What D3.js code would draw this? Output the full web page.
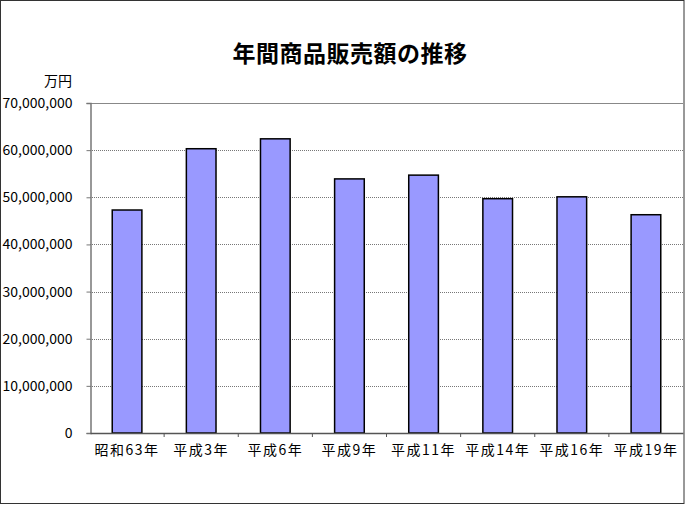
<!DOCTYPE html>
<html><head><meta charset="utf-8">
<script src="https://cdn.jsdelivr.net/npm/d3@7"></script>
<style>body{margin:0;background:#fff}svg{display:block}</style>
</head><body>
<script>
const categories = ["昭和63年","平成3年","平成6年","平成9年","平成11年","平成14年","平成16年","平成19年"];
const values = [47300000, 60300000, 62400000, 53900000, 54700000, 49700000, 50100000, 46300000];
const yTicks = [0,10000000,20000000,30000000,40000000,50000000,60000000,70000000];
const title = "年間商品販売額の推移";
const unit = "万円";

const W=685,H=505;
const font = "'Noto Sans CJK JP','DejaVu Sans',sans-serif";
const m={left:90,right:2,top:103,bottom:72};
const svg=d3.select("body").append("svg").attr("width",W).attr("height",H).style("font-family",font);
svg.append("rect").attr("x",0.5).attr("y",0.5).attr("width",W-1.5).attr("height",H-2).attr("fill","#fff").attr("stroke","#333");

const x=d3.scaleBand().domain(categories).range([m.left,W-m.right]).paddingInner(0.6).paddingOuter(0.3);
const y=d3.scaleLinear().domain([0,70000000]).range([H-m.bottom,m.top]);

// gridlines
svg.append("g").selectAll("line").data(yTicks.filter(d=>d>0)).join("line")
 .attr("x1",m.left).attr("x2",W-m.right).attr("y1",d=>Math.round(y(d))+0.5).attr("y2",d=>Math.round(y(d))+0.5)
 .attr("stroke",d=>d===70000000?"#888":"#777").attr("stroke-dasharray",d=>d===70000000?null:"1,1");

// bars
svg.append("g").selectAll("rect").data(values).join("rect")
 .attr("x",(d,i)=>x(categories[i])).attr("width",x.bandwidth())
 .attr("y",d=>y(d)).attr("height",d=>y(0)-y(d))
 .attr("fill","#9999FF").attr("stroke","#000").attr("stroke-width",1.5);

// y axis
const ya=svg.append("g").attr("transform",`translate(${m.left+0.5},0)`)
 .call(d3.axisLeft(y).tickValues(yTicks).tickSize(4).tickPadding(14).tickFormat(d3.format(",")));
ya.select(".domain").attr("stroke","#777").attr("stroke-width",1.5);
ya.selectAll(".tick line").attr("stroke","#777");
ya.selectAll("text").attr("font-size",14).attr("fill","#000").attr("font-family",font);

// x axis
const xa=svg.append("g").attr("transform",`translate(0,${y(0)})`)
 .call(d3.axisBottom(x).tickSize(0).tickPadding(12));
xa.select(".domain").attr("stroke","#555").attr("stroke-width",1.5);
xa.selectAll("text").attr("font-size",14).attr("letter-spacing","1.5px").attr("fill","#000").attr("font-family",font);
xa.selectAll(".tk").data(categories.slice(1)).join("line").attr("class","tk")
 .attr("x1",d=>x(d)-x.bandwidth()*0.75).attr("x2",d=>x(d)-x.bandwidth()*0.75)
 .attr("y1",0).attr("y2",4).attr("stroke","#555");

svg.append("text").attr("x",72).attr("y",86).attr("text-anchor","end").attr("font-size",14).text(unit);
svg.append("text").attr("x",350).attr("y",62).attr("text-anchor","middle").attr("font-size",23).attr("font-weight","bold").attr("letter-spacing","0.5px").text(title);
</script>
</body></html>
